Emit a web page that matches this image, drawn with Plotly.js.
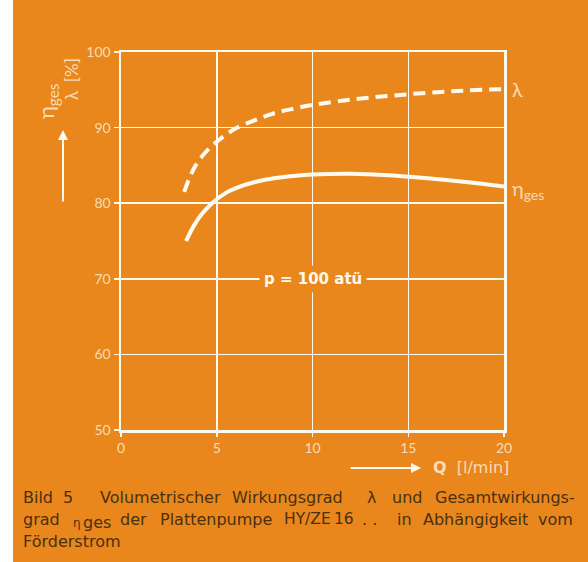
<!DOCTYPE html>
<html>
<head>
<meta charset="utf-8">
<script src="https://cdn.plot.ly/plotly-3.0.1.min.js"></script>
<style>html,body{margin:0;padding:0;background:#fff;}#chart{width:588px;height:562px;}</style>
</head>
<body>
<div id="chart"></div>
<script>
// Volumetric efficiency λ (dashed)
const qLambda = [3.3, 3.6, 3.9, 4.3, 4.8, 5.4, 6.0, 7.0, 8.0, 9.0, 10.0, 12.0, 14.0, 16.0, 18.0, 20.0];
const lambdaVals = [81.5, 83.5, 85.0, 86.4, 87.7, 88.9, 89.9, 91.0, 91.9, 92.5, 93.0, 93.7, 94.2, 94.6, 94.9, 95.1];
// Total efficiency η_ges (solid)
const qEta = [3.4, 3.8, 4.2, 4.8, 5.5, 6.0, 7.0, 8.0, 9.0, 10.0, 12.0, 14.0, 16.0, 18.0, 20.0];
const etaVals = [75.0, 77.0, 78.5, 80.1, 81.4, 82.0, 82.8, 83.3, 83.6, 83.8, 83.9, 83.7, 83.3, 82.8, 82.2];
const xTicks = [0, 5, 10, 15, 20];
const yTicks = [50, 60, 70, 80, 90, 100];
// caption words per line with their left edge (px)
const captionWords = [
  [['Bild', 23], ['5', 63], ['Volumetrischer', 100], ['Wirkungsgrad', 232], ['λ', 367], ['und', 392], ['Gesamtwirkungs-', 435]],
  [['grad', 23], ['η', 73, 12, -4], ['ges', 83, 16, -3], ['der', 120], ['Plattenpumpe', 160], ['HY/ZE', 284, 15.5], ['16', 334, 15.5], ['. .', 362], ['in', 397], ['Abhängigkeit', 423], ['vom', 538]],
  [['Förderstrom', 23]]
];

const orange = '#e9871c';
const cream = '#f8dcb4';
const white = '#fffaf0';
const brown = '#4a3010';
const font = 'Lato, "DejaVu Sans", sans-serif';
const wide = '"DejaVu Sans", sans-serif';

const traces = [
  {x: qLambda, y: lambdaVals, mode: 'lines', line: {color: white, width: 4, dash: '12px,7px', shape: 'spline', smoothing: 1}, hoverinfo: 'skip'},
  {x: qEta, y: etaVals, mode: 'lines', line: {color: white, width: 4, shape: 'spline', smoothing: 1}, hoverinfo: 'skip'}
];

const L = 121, R = 504, T = 52, B = 430;
const px = v => (v - L) / (R - L);
const py = v => (B - v) / (B - T);

const annotations = [
  {xref: 'x', yref: 'y', x: 10, y: 70, text: '<b>p = 100 atü</b>', showarrow: false,
   font: {family: wide, size: 15, color: white}, bgcolor: orange, borderpad: 4},
  {xref: 'x', yref: 'y', x: 20, y: 95.1, xanchor: 'left', xshift: 6, text: 'λ', showarrow: false,
   font: {family: font, size: 20, color: cream}},
  {xref: 'x', yref: 'y', x: 20, y: 81.8, xanchor: 'left', xshift: 6, text: 'η<sub>ges</sub>', showarrow: false,
   font: {family: font, size: 20, color: cream}},
  // y axis title
  {xref: 'paper', yref: 'paper', x: px(47), y: py(101), xanchor: 'center', yanchor: 'middle', textangle: -90,
   text: 'η<sub>ges</sub>', showarrow: false, font: {family: font, size: 22, color: cream}},
  {xref: 'paper', yref: 'paper', x: px(72), y: py(79), xanchor: 'center', yanchor: 'middle', textangle: -90,
   text: 'λ  [%]', showarrow: false, font: {family: font, size: 17, color: cream}},
  // up arrow
  {xref: 'paper', yref: 'paper', x: px(63), y: py(130), ax: 0, ay: 73, text: '',
   showarrow: true, arrowhead: 2, arrowsize: 1, arrowwidth: 2, arrowcolor: white},
  // right arrow
  {xref: 'paper', yref: 'paper', x: px(421), y: py(468), ax: -72, ay: 0, text: '',
   showarrow: true, arrowhead: 2, arrowsize: 1, arrowwidth: 2, arrowcolor: white},
  {xref: 'paper', yref: 'paper', x: px(431), y: py(467), xanchor: 'left', yanchor: 'middle',
   text: '<b>Q</b>  [l/min]', showarrow: false, font: {family: wide, size: 16, color: cream}}
];

captionWords.forEach((line, i) => {
  line.forEach(([w, x, size, ys]) => {
    annotations.push({xref: 'paper', yref: 'paper', x: px(x), y: py(497 + i * 22), xanchor: 'left', yanchor: 'middle',
      text: w, showarrow: false, xshift: -2, yshift: ys || 0, font: {family: wide, size: size || 16, color: brown}});
  });
});

const axisCommon = {showgrid: true, gridcolor: white, gridwidth: 1.5, zeroline: false, showline: true,
  linecolor: white, linewidth: 2.5, mirror: true, ticks: 'outside', tickcolor: white, tickwidth: 1.5,
  tickfont: {size: 14, color: cream, family: font}};

const layout = {
  width: 588, height: 562,
  margin: {l: L, r: 588 - R, t: T, b: 562 - B},
  paper_bgcolor: orange, plot_bgcolor: orange,
  showlegend: false,
  font: {family: font, color: cream},
  xaxis: Object.assign({}, axisCommon, {range: [0, 20], tickvals: xTicks, ticktext: xTicks.map(String), ticklen: 4}),
  yaxis: Object.assign({}, axisCommon, {range: [50, 100], tickvals: yTicks, ticktext: yTicks.map(String), ticklen: 5}),
  shapes: [
    {type: 'rect', xref: 'paper', yref: 'paper', x0: px(-20), x1: px(13), y0: -0.5, y1: 1.2, fillcolor: '#ffffff', line: {width: 0}, layer: 'below'}
  ],
  annotations: annotations
};

Plotly.newPlot('chart', traces, layout, {staticPlot: true, displayModeBar: false});
</script>
</body>
</html>
